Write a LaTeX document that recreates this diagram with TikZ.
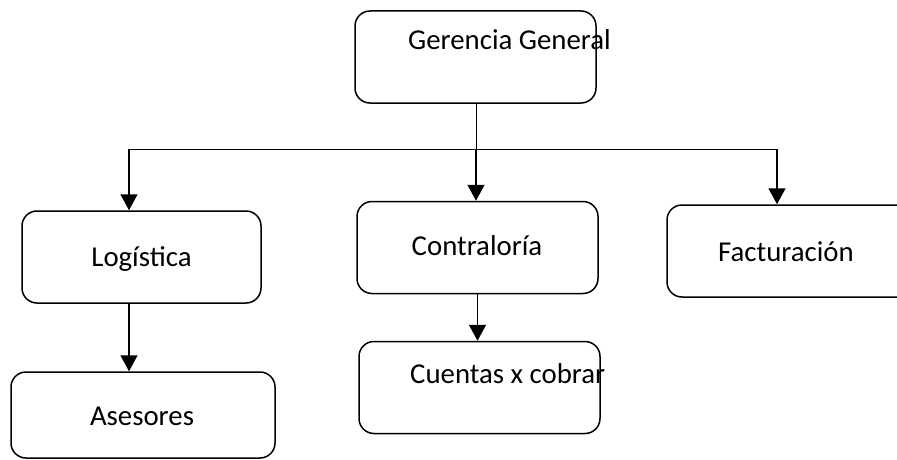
\documentclass[tikz,border=0pt]{standalone}
\usepackage{fontspec}
\setmainfont{Carlito}
\usetikzlibrary{arrows.meta}
\begin{document}
\begin{tikzpicture}[x=1pt,y=-1pt,
  box/.style={draw=black, line width=1.5pt, rounded corners=15pt, inner sep=0pt},
  lbl/.style={font=\fontsize{28.8}{32}\selectfont, inner sep=0pt},
  bus/.style={draw=black, line width=0.9pt},
  arr/.style={draw=black, line width=1.5pt, -{Triangle[length=16pt,width=17pt]}}]
\useasboundingbox (0,0) rectangle (897,460);
% boxes
\node[box, minimum width=241pt, minimum height=92pt] (ger) at (475.5,57) {};
\node[box, minimum width=239pt, minimum height=92pt] (log) at (141.5,257) {};
\node[box, minimum width=264pt, minimum height=86pt] (ase) at (143,415) {};
\node[box, minimum width=241pt, minimum height=92pt] (con) at (477.5,247.5) {};
\node[box, minimum width=241pt, minimum height=92pt] (cue) at (479.5,387.5) {};
\node[box, minimum width=260pt, minimum height=92pt] (fac) at (797,251) {};
% texts
\node[lbl, anchor=base west] (gert) at (408,50) {Gerencia General};
\node[lbl, anchor=base] (logt) at (141.5,266) {Logística};
\node[lbl, anchor=base] (aset) at (142,425) {Asesores};
\node[lbl, anchor=base] (cont) at (477,255) {Contraloría};
\node[lbl, anchor=base west] (cuet) at (410,383) {Cuentas x cobrar};
\node[lbl, anchor=base] (fact) at (786,261) {Facturación};
% bus
\coordinate (bL) at (129,149);
\coordinate (bM) at (476,149);
\coordinate (bR) at (777,149);
\draw[bus] (ger.south -| bM) -- (bM);
\draw[bus] (bL) -- (bR);
% arrows
\draw[arr] (bL) -- (bL |- log.north);
\draw[arr] (bM) -- (bM |- con.north);
\draw[arr] (bR) -- (bR |- fac.north);
\draw[arr] (log.south -| bL) -- (ase.north -| bL);
\draw[arr] (con.south) -- (con.south |- cue.north);
\end{tikzpicture}
\end{document}
